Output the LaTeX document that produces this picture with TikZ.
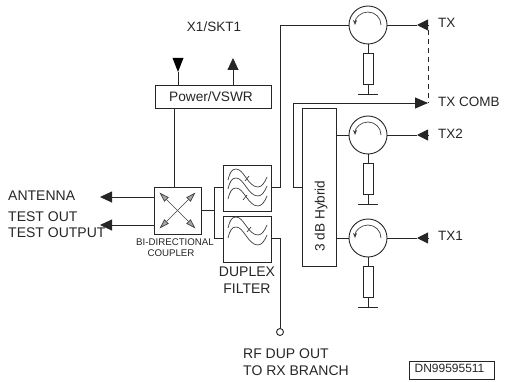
\documentclass[tikz,border=0pt]{standalone}
\usepackage{fontspec}
\setmainfont{Liberation Sans}
\usetikzlibrary{arrows.meta,calc}
\tikzset{
  wire/.style={line width=0.9pt,color=black!85},
  thin wire/.style={line width=0.7pt,color=black!75},
  blockbox/.style={draw=black!85,line width=0.9pt,fill=white,inner sep=0pt,minimum width=0pt},
  lbl/.style={inner sep=0pt,font=\fontsize{14}{16}\selectfont,text=black!85},
  small lbl/.style={inner sep=0pt,font=\fontsize{9.7}{11}\selectfont,text=black!85},
  solidtip/.style={-{Triangle[length=12pt,width=11pt]}},
  circ/.style={circle,draw=black!85,line width=0.9pt,minimum size=38pt,inner sep=0pt},
}
\newcommand{\circsym}[1]{%
  \draw[thin wire,-{Stealth[length=5pt,width=4pt]}] ($(#1)+(13,0)$) arc[start angle=0,end angle=-180,radius=13];
}
\newcommand{\loadres}[3]{%
  \node[blockbox,minimum width=10pt,minimum height=31pt,anchor=north] (#2) at ($(#1)+(0,28)$) {};
  \coordinate (#3l) at ($(#1)+(-10,69)$);
  \coordinate (#3r) at ($(#1)+(10,69)$);
  \coordinate (#3c) at ($(#1)+(0,69)$);
  \draw[wire] (#1.south) -- (#2.north);
  \draw[wire] (#2.south) -- (#3c);
  \draw[wire] (#3l) -- (#3r);
}
\newcommand{\wave}[2]{%
  \begin{scope}[shift={(#1,#2)}]
  \draw[thin wire] (0,0) .. controls (2,-8) and (4,-11) .. (8,-11)
     .. controls (16,-11) and (20,7) .. (30,7) .. controls (34,7) and (37,2) .. (39,-3);
  \end{scope}
}
\begin{document}
\begin{tikzpicture}[x=1pt,y=-1pt]
\useasboundingbox (0,0) rectangle (505,382);
% Coupler
\node[blockbox,minimum width=47pt,minimum height=47pt] (coup) at (177.5,210.5) {};
\foreach \a/\b in {-1/-1,1/-1,-1/1,1/1}{
  \draw[thin wire,{Triangle[length=10pt,width=6pt,open,fill=black!35]}-] ($(coup)+(18*\a,18*\b)$) -- (coup.center);
}
% Power box
\node[blockbox,minimum width=116pt,minimum height=23pt] (pwr) at (213,96.5) {};
\node[lbl] (pwrt) at (211,97) {\fontsize{13.7}{15}\selectfont Power/VSWR};
\coordinate (pd) at (178,72); \coordinate (pu) at (233,58);
\coordinate (pa) at (178,85); \coordinate (pb) at (233,85);
\draw[wire] (pa) -- (pd);
\path[fill=black] (172.5,58) -- (183.5,58) -- (178,72) -- cycle;
\draw[wire,solidtip] (pb) -- (pu);
\coordinate (cu) at (174.5,187); \coordinate (pl) at (174.5,108);
\draw[wire] (pl) -- (cu);
% Antenna
\coordinate (ant) at (100,197); \coordinate (tst) at (100,225);
\coordinate (ca) at (154,197); \coordinate (ct) at (154,225);
\draw[wire,solidtip] (ca) -- (ant);
\draw[wire,solidtip] (ct) -- (tst);
% Filters
\node[blockbox,minimum width=48pt,minimum height=46pt] (fu) at (247,188) {};
\node[blockbox,minimum width=48pt,minimum height=46pt] (fl) at (247,239) {};
\wave{228}{180}\wave{228}{189}\wave{228}{199}
\wave{228}{228}\wave{228}{238}
\draw[thin wire] (245,181) -- (249,176) (243,200) -- (247,195) (247,232) -- (251,227);
\coordinate (ju) at (214,187); \coordinate (jl) at (214,238);
\draw[wire] (coup.east) -- (214,210.5);
\draw[wire] (fu.west |- ju) -- (ju) -- (jl) -- (fl.west |- jl);
% Hybrid
\node[blockbox,minimum width=34pt,minimum height=158pt] (hyb) at (319,187) {};
\node[lbl,rotate=90] (hybt) at (321,216) {\fontsize{13.6}{15}\selectfont 3 dB Hybrid};
% Circulators
\node[circ] (c0) at (368,25) {};
\node[circ] (c2) at (368,135) {};
\node[circ] (c1) at (368,238) {};
\circsym{c0}\circsym{c2}\circsym{c1}
\loadres{c0}{r0}{g0}
\loadres{c2}{r2}{g2}
\loadres{c1}{r1}{g1}
% Wires
\draw[wire] (fu.east |- ju) -- (280,187) -- (280,25) -- (c0.west);
\coordinate (t0) at (417,25); \coordinate (t2) at (417,135); \coordinate (t1) at (417,238);
\coordinate (comb) at (428,103);
\draw[wire] (c0.east) -- (t0);
\draw[wire] (c2.east) -- (t2);
\draw[wire] (c1.east) -- (t1);
\draw[wire,-{Triangle[length=11pt,width=11pt]}] (429,25) -- (t0);
\draw[wire,-{Triangle[length=11pt,width=11pt]}] (429,135) -- (t2);
\draw[wire,-{Triangle[length=11pt,width=11pt]}] (429,238) -- (t1);
\draw[wire,dash pattern=on 5pt off 4pt] (428,30) -- (comb);
\draw[wire,-{Triangle[length=13pt,width=11pt]}] (hyb.west |- ju) -- (293,187) -- (293,103) -- (comb);
\draw[wire] (hyb.east |- c2) -- (c2.west);
\draw[wire] (hyb.east |- c1) -- (c1.west);
% RF out
\node[circle,draw=black!85,line width=0.9pt,minimum size=7pt,inner sep=0pt] (rf) at (280,332) {};
\draw[wire] (fl.east |- jl) -- (280,238) -- (rf.north);
% DN box
\node[draw=black!85,line width=0.9pt,minimum width=85pt,minimum height=18pt,inner sep=0pt] (dn) at (451.5,370) {};
\node[inner sep=0pt,font=\fontsize{12}{14}\selectfont,text=black!85] (dnt) at (449.5,368.5) {DN99595511};
% Text
\node[lbl,font=\fontsize{13.5}{15}\selectfont] (x1) at (214,27) {X1/SKT1};
\node[lbl,anchor=west] (la) at (8,196) {ANTENNA};
\node[lbl,anchor=west] (lt1) at (8,217) {TEST OUT};
\node[lbl,anchor=west] (lt2) at (8,233) {TEST OUTPUT};
\node[small lbl] (bi) at (175,242) {BI-DIRECTIONAL};
\node[small lbl] (co) at (171,253) {COUPLER};
\node[lbl] (du) at (247,272) {DUPLEX};
\node[lbl] (fi) at (247,289) {FILTER};
\node[lbl,anchor=west] (r1) at (243,354) {RF DUP OUT};
\node[lbl,anchor=west] (r2) at (243,371) {TO RX BRANCH};
\node[lbl,anchor=west,font=\fontsize{13.5}{15}\selectfont] (tx) at (438,23) {TX};
\node[lbl,anchor=west,font=\fontsize{13.5}{15}\selectfont] (txc) at (438,102) {TX COMB};
\node[lbl,anchor=west,font=\fontsize{13.5}{15}\selectfont] (tx2) at (438,134) {TX2};
\node[lbl,anchor=west,font=\fontsize{13.5}{15}\selectfont] (tx1) at (438,236) {TX1};
\end{tikzpicture}
\end{document}
